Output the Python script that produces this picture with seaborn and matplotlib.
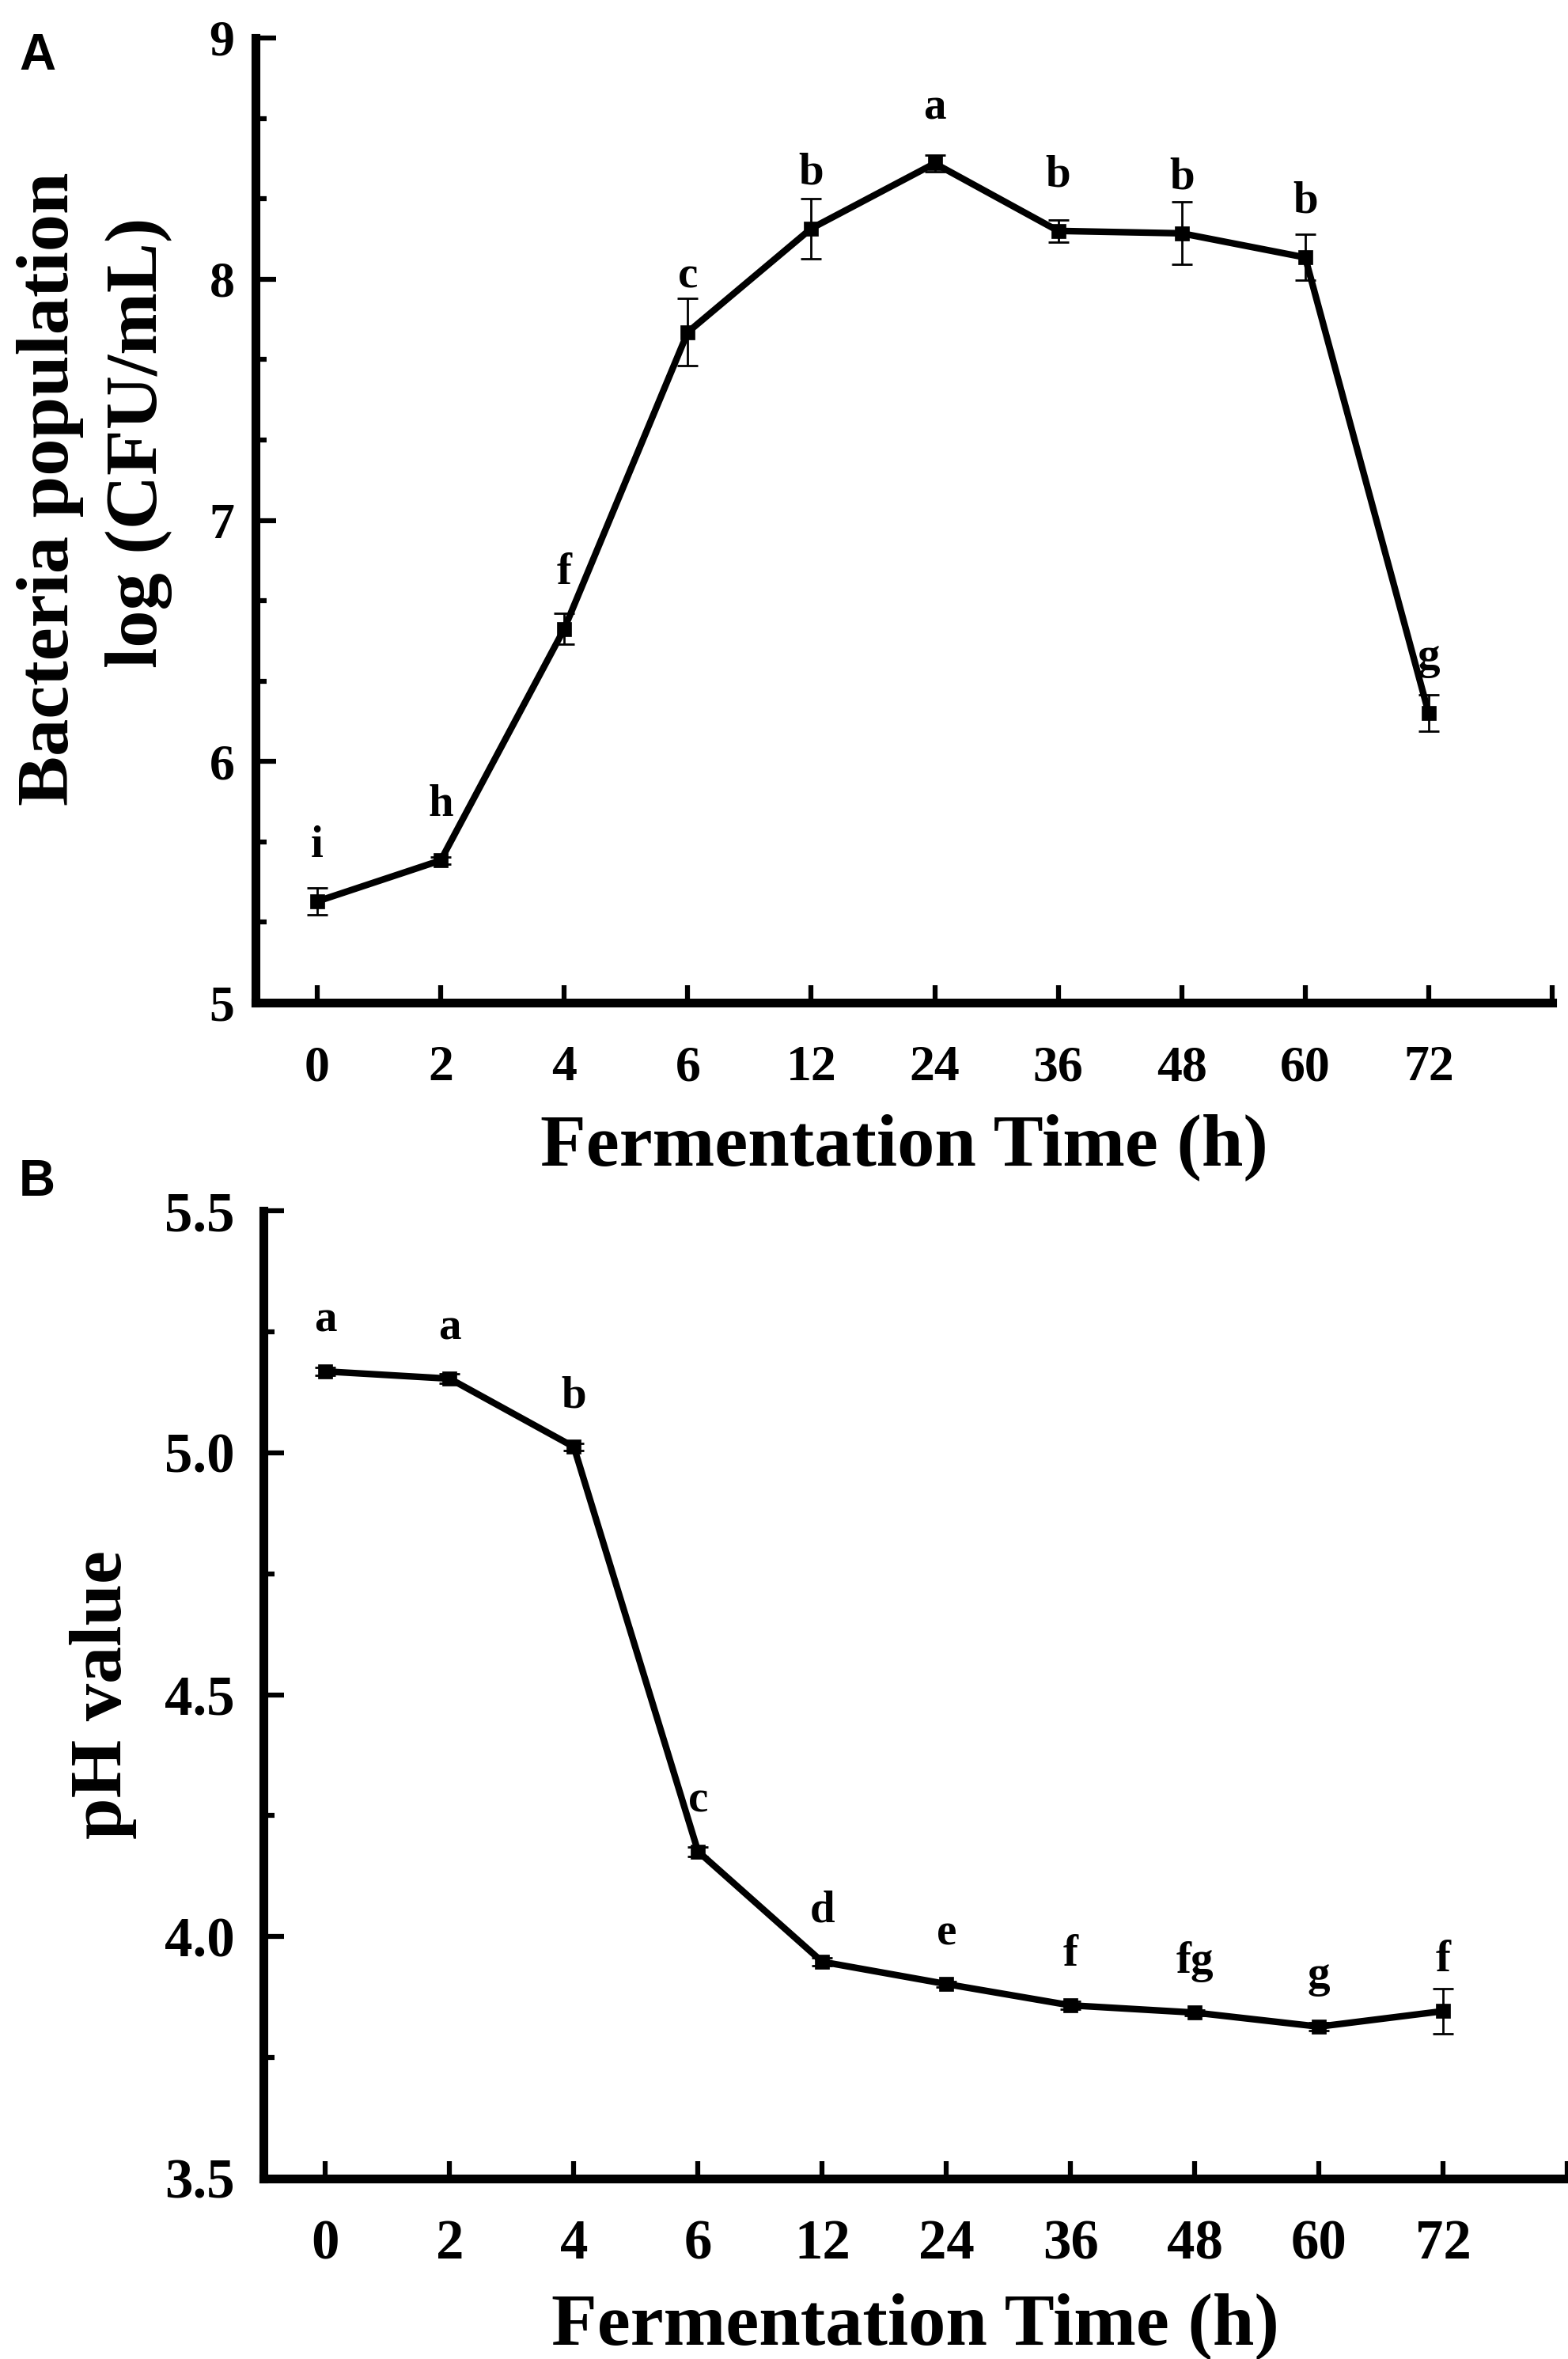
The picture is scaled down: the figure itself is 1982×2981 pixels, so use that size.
import matplotlib
matplotlib.use("Agg")
import matplotlib.pyplot as plt
import seaborn as sns
import numpy as np
from matplotlib.ticker import MultipleLocator, FormatStrFormatter

# fermentation time points (categorical x axis)
times = ["0", "2", "4", "6", "12", "24", "36", "48", "60", "72"]

# panel A: bacteria population, log(CFU/mL)
bact_mean = [5.42, 5.59, 6.55, 7.78, 8.21, 8.48, 8.20, 8.19, 8.09, 6.20]
bact_err = [0.055, 0.015, 0.065, 0.14, 0.125, 0.035, 0.045, 0.13, 0.095, 0.075]
bact_letters = ["i", "h", "f", "c", "b", "a", "b", "b", "b", "g"]

# panel B: pH value
ph_mean = [5.168, 5.153, 5.012, 4.176, 3.948, 3.902, 3.858, 3.843, 3.814, 3.846]
ph_err = [0.008, 0.010, 0.008, 0.010, 0.008, 0.006, 0.008, 0.006, 0.008, 0.046]
ph_letters = ["a", "a", "b", "c", "d", "e", "f", "fg", "g", "f"]

sns.set_style("ticks")
plt.rcParams["font.family"] = ["Liberation Serif", "DejaVu Serif"]
plt.rcParams["font.weight"] = "bold"
plt.rcParams["text.color"] = "black"
plt.rcParams["axes.labelcolor"] = "black"
plt.rcParams["axes.edgecolor"] = "black"
plt.rcParams["xtick.color"] = "black"
plt.rcParams["ytick.color"] = "black"

W, H = 1983, 2981
fig = plt.figure(figsize=(W / 100, H / 100), dpi=100)
fig.patch.set_facecolor("white")


def px_box(left, top, right, bottom):
    return [left / W, 1 - bottom / H, (right - left) / W, (bottom - top) / H]


def draw_panel(ax, mean, err, letters, ylim, major, minor, yfmt,
               ytick_size, xtick_size, ypad, xpad, letter_off):
    pos = np.arange(len(times))
    sns.lineplot(x=pos, y=mean, ax=ax, color="black", linewidth=6,
                 marker="s", markersize=13, markeredgecolor="black",
                 markeredgewidth=0.5, errorbar=None, zorder=3)
    ax.errorbar(pos, mean, yerr=err, fmt="none", ecolor="black",
                elinewidth=2, capsize=9.5, capthick=2, zorder=2)
    for x, y, t in zip(pos, mean, letters):
        ax.text(x, y + letter_off, t, ha="center", va="baseline",
                fontsize=41, fontweight="bold")

    ax.set_xlim(-0.5, len(times))
    ax.set_ylim(*ylim)
    ax.set_xticks(np.arange(len(times) + 1))
    ax.set_xticklabels(times + [""])
    ax.yaxis.set_major_locator(MultipleLocator(major))
    ax.yaxis.set_minor_locator(MultipleLocator(minor))
    ax.yaxis.set_major_formatter(FormatStrFormatter(yfmt))

    for s in ["top", "right"]:
        ax.spines[s].set_visible(False)
    for s in ["left", "bottom"]:
        ax.spines[s].set_linewidth(8)
        ax.spines[s].set_color("black")
        ax.spines[s].set_capstyle("projecting")

    ax.tick_params(axis="y", which="major", direction="in", length=19,
                   width=4.5, labelsize=ytick_size, pad=ypad)
    ax.tick_params(axis="y", which="minor", direction="in", length=10,
                   width=4.5)
    ax.tick_params(axis="x", which="major", direction="in", length=16,
                   width=4.5, labelsize=xtick_size, pad=xpad)
    ax.set_facecolor("white")
    ax.set_xlabel("Fermentation Time (h)", fontsize=68, fontweight="bold",
                  labelpad=20)


axA = fig.add_axes(px_box(323, 48, 1962, 1267))
draw_panel(axA, bact_mean, bact_err, bact_letters, (5, 9), 1, 1 / 3, "%d",
           46, 46, 19, 39, 0.185)

axB = fig.add_axes(px_box(333, 1530, 1981, 2753))
draw_panel(axB, ph_mean, ph_err, ph_letters, (3.5, 5.5), 0.5, 0.25, "%.1f",
           51, 51, 26, 37, 0.082)
axB.set_ylabel("pH value", fontsize=68, fontweight="bold", labelpad=25)

# two-line y label of panel A
fig.text(86 / W, 1 - 618 / H, "Bacteria population", rotation=90,
         rotation_mode="anchor", ha="center", va="baseline",
         fontsize=68, fontweight="bold")
fig.text(198 / W, 1 - 559 / H, "log (CFU/mL)", rotation=90,
         rotation_mode="anchor", ha="center", va="baseline",
         fontsize=68, fontweight="bold")

# panel letters
fig.text(24 / W, 1 - 41 / H, "A", ha="left", va="top", fontsize=46,
         fontweight="bold", family=["Liberation Sans", "DejaVu Sans"])
fig.text(24 / W, 1 - 1464 / H, "B", ha="left", va="top", fontsize=46,
         fontweight="bold", family=["Liberation Sans", "DejaVu Sans"])

fig.savefig("out.png", dpi=100, facecolor="white")
